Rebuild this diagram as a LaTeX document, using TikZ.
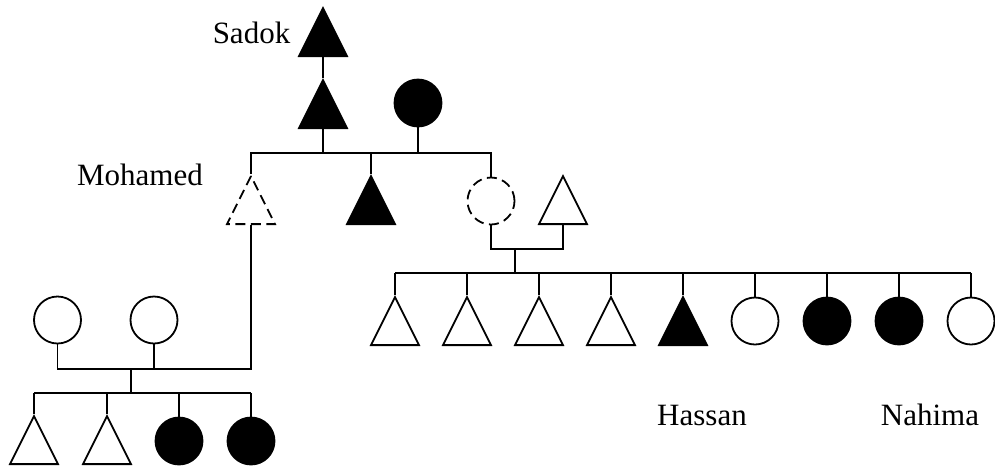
\documentclass[tikz,border=0pt]{standalone}
\usepackage{fontspec}
\setmainfont{Liberation Serif}
\usetikzlibrary{positioning,shapes.geometric}
\tikzstyle{man}=[isosceles triangle, shape border rotate=90, isosceles triangle stretches,
        minimum width=24pt, minimum height=24pt, inner sep=0pt, draw=black, fill=white,
        anchor=lower side]
\tikzstyle{woman}=[circle, minimum size=23.5pt, inner sep=0pt, draw=black, fill=white]
\tikzstyle{affected}=[fill=black]
\tikzstyle{unknown}=[dash pattern=on 5pt off 2.75pt]
\tikzstyle{kinname}=[anchor=base, inner sep=0pt, font=\fontsize{15.5}{18}\selectfont]

\begin{document}
\begin{tikzpicture}[x=0.5pt, y=-0.5pt, line width=0.9pt]
\useasboundingbox (0,0) rectangle (995,468);
% grandparents (triangles sit on their base)
\node[man,affected] (sadok) at (323,57) {};
\node[man,affected] (fa) at (323,129) {};
\node[woman,affected] (mo) at (418,103) {};
\node[kinname] (lsadok) at (251.5,43) {Sadok};
\draw (sadok.lower side) -- (fa.apex);
% siblings
\node[man,unknown] (moh) at (251,225) {};
\node[man,affected] (bro) at (371,225) {};
\node[woman,unknown] (sis) at (491,201) {};
\node[man] (hus) at (563,225) {};
\node[kinname] (lmoh) at (140,185) {Mohamed};
\coordinate (g1) at (251,153);
\coordinate (g2) at (491,153);
\draw (moh.apex) -- (g1) -- (g2) -- (sis.north);
\draw (bro.apex) -- (bro.apex |- g1);
\draw (fa.lower side) -- (fa.lower side |- g1);
\draw (mo.south) -- (mo.south |- g1);
% sister and husband
\coordinate (m2) at (515,249);
\coordinate (k2) at (515,273);
\draw (sis.south) |- (m2) -| (hus.lower side);
\draw (m2) -- (k2);
\node[man] (c1) at (395,346) {};
\node[man] (c2) at (467,346) {};
\node[man] (c3) at (539,346) {};
\node[man] (c4) at (611,346) {};
\node[man,affected] (c5) at (683,346) {};
\node[woman] (c6) at (755,321) {};
\node[woman,affected] (c7) at (827,321) {};
\node[woman,affected] (c8) at (899,321) {};
\node[woman] (c9) at (971,321) {};
\draw (c1.apex |- k2) -- (c9.north |- k2);
\draw (c1.apex) -- (c1.apex |- k2);
\draw (c2.apex) -- (c2.apex |- k2);
\draw (c3.apex) -- (c3.apex |- k2);
\draw (c4.apex) -- (c4.apex |- k2);
\draw (c5.apex) -- (c5.apex |- k2);
\draw (c6.north) -- (c6.north |- k2);
\draw (c7.north) -- (c7.north |- k2);
\draw (c8.north) -- (c8.north |- k2);
\draw (c9.north) -- (c9.north |- k2);
\node[kinname] (lhassan) at (702,425) {Hassan};
\node[kinname] (lnahima) at (930,425) {Nahima};
% Mohamed and his wives
\node[woman] (w1) at (57.5,320) {};
\node[woman] (w2) at (154,320) {};
\coordinate (m3) at (131,369);
\coordinate (k3) at (131,393);
\draw (moh.lower side) |- (w1.south |- m3) -- (w1.south);
\draw (w2.south) -- (w2.south |- m3);
\draw (m3) -- (k3);
\node[man] (d1) at (34,465) {};
\node[man] (d2) at (107,465) {};
\node[woman,affected] (d3) at (179,441) {};
\node[woman,affected] (d4) at (251,441) {};
\draw (d1.apex |- k3) -- (d4.north |- k3);
\draw (d1.apex) -- (d1.apex |- k3);
\draw (d2.apex) -- (d2.apex |- k3);
\draw (d3.north) -- (d3.north |- k3);
\draw (d4.north) -- (d4.north |- k3);
\end{tikzpicture}
\end{document}
